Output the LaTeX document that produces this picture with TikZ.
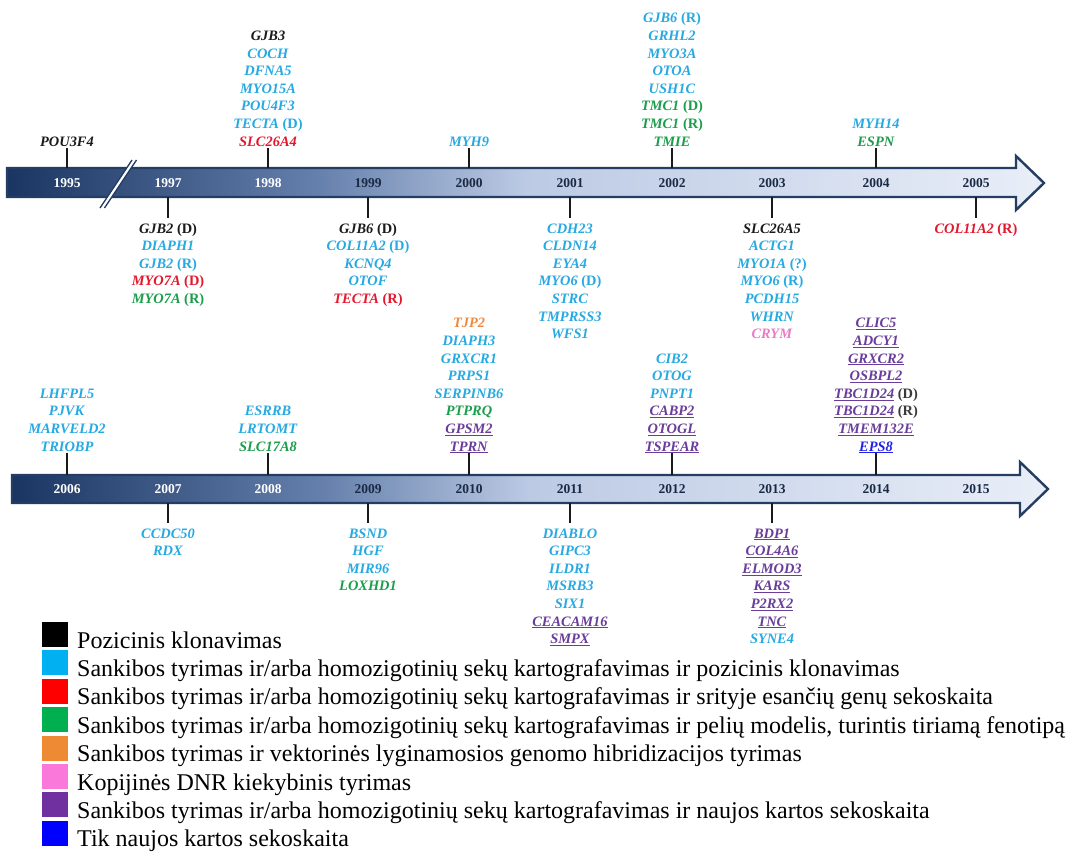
\documentclass[tikz,border=0pt]{standalone}
\usepackage{fontspec}
\setmainfont{Liberation Serif}
\usepackage{xcolor}

% text colours of the gene names
\definecolor{gblack}{HTML}{1A1A1A}
\definecolor{gcyan}{HTML}{27A9E1}
\definecolor{gred}{HTML}{E3182D}
\definecolor{ggreen}{HTML}{1B9E4B}
\definecolor{gorange}{HTML}{F0893C}
\definecolor{gpink}{HTML}{E97BC6}
\definecolor{gpurple}{HTML}{6A3D9A}
\definecolor{gblue}{HTML}{2222E6}
\definecolor{gdark}{HTML}{3A3A3A}
% legend swatches
\definecolor{lk}{HTML}{000000}
\definecolor{lc}{HTML}{00B0F0}
\definecolor{lr}{HTML}{FF0000}
\definecolor{lg}{HTML}{00B050}
\definecolor{lo}{HTML}{EF8A34}
\definecolor{lp}{HTML}{F978DA}
\definecolor{lu}{HTML}{7030A0}
\definecolor{lb}{HTML}{0000FF}
% time bar
\definecolor{bardark}{HTML}{1B3563}
\definecolor{barmid}{HTML}{6580AC}
\definecolor{barsoft}{HTML}{BCCAE4}
\definecolor{barlight}{HTML}{E9EEF8}
\definecolor{barline}{HTML}{243D63}
\definecolor{yeardark}{HTML}{1A2A44}

\pgfdeclarehorizontalshading{barshade}{100bp}{color(0bp)=(bardark); color(25bp)=(bardark); color(40bp)=(barmid); color(50bp)=(barsoft); color(75bp)=(barlight); color(100bp)=(barlight)}

% gene name: colour, italic name, upright suffix
\newcommand{\genen}[3]{\textcolor{#1}{\textit{#2}#3}}
\newcommand{\geneu}[3]{\textcolor{#1}{\underline{\textit{#2}}#3}}

\begin{document}
\begin{tikzpicture}[x=1pt,y=-1pt,
  genes/.style={font=\fontsize{14.4}{17.6}\selectfont\bfseries, inner sep=0pt, anchor=base},
  yearw/.style={font=\fontsize{13.5}{16}\selectfont\bfseries, text=white, inner sep=0pt},
  yeard/.style={font=\fontsize{13.5}{16}\selectfont\bfseries, text=yeardark, inner sep=0pt},
  tickline/.style={draw=gblack, line width=2pt},
  bar/.style={shading=barshade, draw=barline, line width=2.4pt, line join=miter},
  swatch/.style={minimum width=26pt, minimum height=25pt, inner sep=0pt, draw=none},
  legtxt/.style={font=\fontsize{24}{28}\selectfont, inner sep=0pt, anchor=base west, text=black}]

\fill[white] (0,0) rectangle (1066,852);
\useasboundingbox (0,0) rectangle (1066,852);

% ---------------- upper time bar 1995-2005 ----------------
\shadedraw[bar] (7,168) -- (1016,168) -- (1016,156) -- (1044,183) -- (1016,210) -- (1016,197) -- (7,197) -- cycle;
% break between 1995 and 1997
\draw[white, line width=3.6pt] (102.2,208) -- (134.2,160);
\draw[barline, line width=1.3pt] (100,208) -- (132,160);
\draw[barline, line width=1.3pt] (104.5,208) -- (136.5,160);

\node[yearw] (y1995) at (67,183) {1995};
\node[yearw] (y1997) at (168,183) {1997};
\node[yearw] (y1998) at (268,183) {1998};
\node[yeard] (y1999) at (368,183) {1999};
\node[yeard] (y2000) at (469,183) {2000};
\node[yeard] (y2001) at (570,183) {2001};
\node[yeard] (y2002) at (672,183) {2002};
\node[yeard] (y2003) at (772,183) {2003};
\node[yeard] (y2004) at (876,183) {2004};
\node[yeard] (y2005) at (976,183) {2005};

% genes above the upper bar
\node[genes] (g1995) at (67,146) {\begin{tabular}[b]{@{}c@{}}
  \genen{gblack}{POU3F4}{}\end{tabular}};
\node[genes] (g1998) at (268,146) {\begin{tabular}[b]{@{}c@{}}
  \genen{gblack}{GJB3}{}\\ \genen{gcyan}{COCH}{}\\ \genen{gcyan}{DFNA5}{}\\
  \genen{gcyan}{MYO15A}{}\\ \genen{gcyan}{POU4F3}{}\\ \genen{gcyan}{TECTA}{ (D)}\\
  \genen{gred}{SLC26A4}{}\end{tabular}};
\node[genes] (g2000) at (469,146) {\begin{tabular}[b]{@{}c@{}}
  \genen{gcyan}{MYH9}{}\end{tabular}};
\node[genes] (g2002) at (672,146) {\begin{tabular}[b]{@{}c@{}}
  \genen{gcyan}{GJB6}{ (R)}\\ \genen{gcyan}{GRHL2}{}\\ \genen{gcyan}{MYO3A}{}\\
  \genen{gcyan}{OTOA}{}\\ \genen{gcyan}{USH1C}{}\\ \genen{ggreen}{TMC1}{ (D)}\\
  \genen{ggreen}{TMC1}{ (R)}\\ \genen{ggreen}{TMIE}{}\end{tabular}};
\node[genes] (g2004) at (876,146) {\begin{tabular}[b]{@{}c@{}}
  \genen{gcyan}{MYH14}{}\\ \genen{ggreen}{ESPN}{}\end{tabular}};

% genes below the upper bar
\node[genes] (g1997) at (168,233) {\begin{tabular}[t]{@{}c@{}}
  \genen{gblack}{GJB2}{ (D)}\\ \genen{gcyan}{DIAPH1}{}\\ \genen{gcyan}{GJB2}{ (R)}\\
  \genen{gred}{MYO7A}{ (D)}\\ \genen{ggreen}{MYO7A}{ (R)}\end{tabular}};
\node[genes] (g1999) at (368,233) {\begin{tabular}[t]{@{}c@{}}
  \genen{gblack}{GJB6}{ (D)}\\ \genen{gcyan}{COL11A2}{ (D)}\\ \genen{gcyan}{KCNQ4}{}\\
  \genen{gcyan}{OTOF}{}\\ \genen{gred}{TECTA}{ (R)}\end{tabular}};
\node[genes] (g2001) at (570,233) {\begin{tabular}[t]{@{}c@{}}
  \genen{gcyan}{CDH23}{}\\ \genen{gcyan}{CLDN14}{}\\ \genen{gcyan}{EYA4}{}\\
  \genen{gcyan}{MYO6}{ (D)}\\ \genen{gcyan}{STRC}{}\\ \genen{gcyan}{TMPRSS3}{}\\
  \genen{gcyan}{WFS1}{}\end{tabular}};
\node[genes] (g2003) at (772,233) {\begin{tabular}[t]{@{}c@{}}
  \genen{gblack}{SLC26A5}{}\\ \genen{gcyan}{ACTG1}{}\\ \genen{gcyan}{MYO1A}{ (?)}\\
  \genen{gcyan}{MYO6}{ (R)}\\ \genen{gcyan}{PCDH15}{}\\ \genen{gcyan}{WHRN}{}\\
  \genen{gpink}{CRYM}{}\end{tabular}};
\node[genes] (g2005) at (976,233) {\begin{tabular}[t]{@{}c@{}}
  \genen{gred}{COL11A2}{ (R)}\end{tabular}};

% tick anchors on the upper bar
\coordinate (k1995) at (67,168);
\coordinate (k1998) at (268,168);
\coordinate (k2000) at (469,168);
\coordinate (k2002) at (672,168);
\coordinate (k2004) at (876,168);
\coordinate (k1997) at (168,197);
\coordinate (k1999) at (368,197);
\coordinate (k2001) at (570,197);
\coordinate (k2003) at (772,197);
\coordinate (k2005) at (976,197);
\foreach \yr in {1995,1998,2000,2002,2004}
  \draw[tickline] (k\yr) -- ([yshift=-2pt]g\yr.base);
\foreach \yr in {1997,1999,2001,2003,2005}
  \draw[tickline] (k\yr) -- ([yshift=15pt]g\yr.base);

% ---------------- lower time bar 2006-2015 ----------------
\shadedraw[bar] (12,475) -- (1020,475) -- (1020,462) -- (1048,489) -- (1020,516) -- (1020,503) -- (12,503) -- cycle;

\node[yearw] (y2006) at (67,489) {2006};
\node[yearw] (y2007) at (168,489) {2007};
\node[yearw] (y2008) at (268,489) {2008};
\node[yeard] (y2009) at (368,489) {2009};
\node[yeard] (y2010) at (469,489) {2010};
\node[yeard] (y2011) at (570,489) {2011};
\node[yeard] (y2012) at (672,489) {2012};
\node[yeard] (y2013) at (772,489) {2013};
\node[yeard] (y2014) at (876,489) {2014};
\node[yeard] (y2015) at (976,489) {2015};

% genes above the lower bar
\node[genes] (g2006) at (67,451) {\begin{tabular}[b]{@{}c@{}}
  \genen{gcyan}{LHFPL5}{}\\ \genen{gcyan}{PJVK}{}\\ \genen{gcyan}{MARVELD2}{}\\
  \genen{gcyan}{TRIOBP}{}\end{tabular}};
\node[genes] (g2008) at (268,451) {\begin{tabular}[b]{@{}c@{}}
  \genen{gcyan}{ESRRB}{}\\ \genen{gcyan}{LRTOMT}{}\\ \genen{ggreen}{SLC17A8}{}\end{tabular}};
\node[genes] (g2010) at (469,451) {\begin{tabular}[b]{@{}c@{}}
  \genen{gorange}{TJP2}{}\\ \genen{gcyan}{DIAPH3}{}\\ \genen{gcyan}{GRXCR1}{}\\
  \genen{gcyan}{PRPS1}{}\\ \genen{gcyan}{SERPINB6}{}\\ \genen{ggreen}{PTPRQ}{}\\
  \geneu{gpurple}{GPSM2}{}\\ \geneu{gpurple}{TPRN}{}\end{tabular}};
\node[genes] (g2012) at (672,451) {\begin{tabular}[b]{@{}c@{}}
  \genen{gcyan}{CIB2}{}\\ \genen{gcyan}{OTOG}{}\\ \genen{gcyan}{PNPT1}{}\\
  \geneu{gpurple}{CABP2}{}\\ \geneu{gpurple}{OTOGL}{}\\ \geneu{gpurple}{TSPEAR}{}\end{tabular}};
\node[genes] (g2014) at (876,451) {\begin{tabular}[b]{@{}c@{}}
  \geneu{gpurple}{CLIC5}{}\\ \geneu{gpurple}{ADCY1}{}\\ \geneu{gpurple}{GRXCR2}{}\\
  \geneu{gpurple}{OSBPL2}{}\\ \geneu{gpurple}{TBC1D24}{ \textcolor{gdark}{(D)}}\\
  \geneu{gpurple}{TBC1D24}{ \textcolor{gdark}{(R)}}\\ \geneu{gpurple}{TMEM132E}{}\\
  \geneu{gblue}{EPS8}{}\end{tabular}};

% genes below the lower bar
\node[genes] (g2007) at (168,538) {\begin{tabular}[t]{@{}c@{}}
  \genen{gcyan}{CCDC50}{}\\ \genen{gcyan}{RDX}{}\end{tabular}};
\node[genes] (g2009) at (368,538) {\begin{tabular}[t]{@{}c@{}}
  \genen{gcyan}{BSND}{}\\ \genen{gcyan}{HGF}{}\\ \genen{gcyan}{MIR96}{}\\
  \genen{ggreen}{LOXHD1}{}\end{tabular}};
\node[genes] (g2011) at (570,538) {\begin{tabular}[t]{@{}c@{}}
  \genen{gcyan}{DIABLO}{}\\ \genen{gcyan}{GIPC3}{}\\ \genen{gcyan}{ILDR1}{}\\
  \genen{gcyan}{MSRB3}{}\\ \genen{gcyan}{SIX1}{}\\ \geneu{gpurple}{CEACAM16}{}\\
  \geneu{gpurple}{SMPX}{}\end{tabular}};
\node[genes] (g2013) at (772,538) {\begin{tabular}[t]{@{}c@{}}
  \geneu{gpurple}{BDP1}{}\\ \geneu{gpurple}{COL4A6}{}\\ \geneu{gpurple}{ELMOD3}{}\\
  \geneu{gpurple}{KARS}{}\\ \geneu{gpurple}{P2RX2}{}\\ \geneu{gpurple}{TNC}{}\\
  \genen{gcyan}{SYNE4}{}\end{tabular}};

% tick anchors on the lower bar
\coordinate (k2006) at (67,475);
\coordinate (k2008) at (268,475);
\coordinate (k2010) at (469,475);
\coordinate (k2012) at (672,475);
\coordinate (k2014) at (876,475);
\coordinate (k2007) at (168,503);
\coordinate (k2009) at (368,503);
\coordinate (k2011) at (570,503);
\coordinate (k2013) at (772,503);
\foreach \yr in {2006,2008,2010,2012,2014}
  \draw[tickline] (k\yr) -- ([yshift=-2pt]g\yr.base);
\foreach \yr in {2007,2009,2011,2013}
  \draw[tickline] (k\yr) -- ([yshift=15pt]g\yr.base);

% ---------------- legend ----------------
\foreach \i/\c/\t in {
  0/lk/{Pozicinis klonavimas},
  1/lc/{Sankibos tyrimas ir/arba homozigotinių sekų kartografavimas ir pozicinis klonavimas},
  2/lr/{Sankibos tyrimas ir/arba homozigotinių sekų kartografavimas ir srityje esančių genų sekoskaita},
  3/lg/{Sankibos tyrimas ir/arba homozigotinių sekų kartografavimas ir pelių modelis, turintis tiriamą fenotipą},
  4/lo/{Sankibos tyrimas ir vektorinės lyginamosios genomo hibridizacijos tyrimas},
  5/lp/{Kopijinės DNR kiekybinis tyrimas},
  6/lu/{Sankibos tyrimas ir/arba homozigotinių sekų kartografavimas ir naujos kartos sekoskaita},
  7/lb/{Tik naujos kartos sekoskaita}} {
  \node[swatch, fill=\c] (sw\i) at (55, 634.5+28.4*\i) {};
  \node[legtxt] (lt\i) at (77, 648+28.4*\i) {\t};
}
\end{tikzpicture}
\end{document}
